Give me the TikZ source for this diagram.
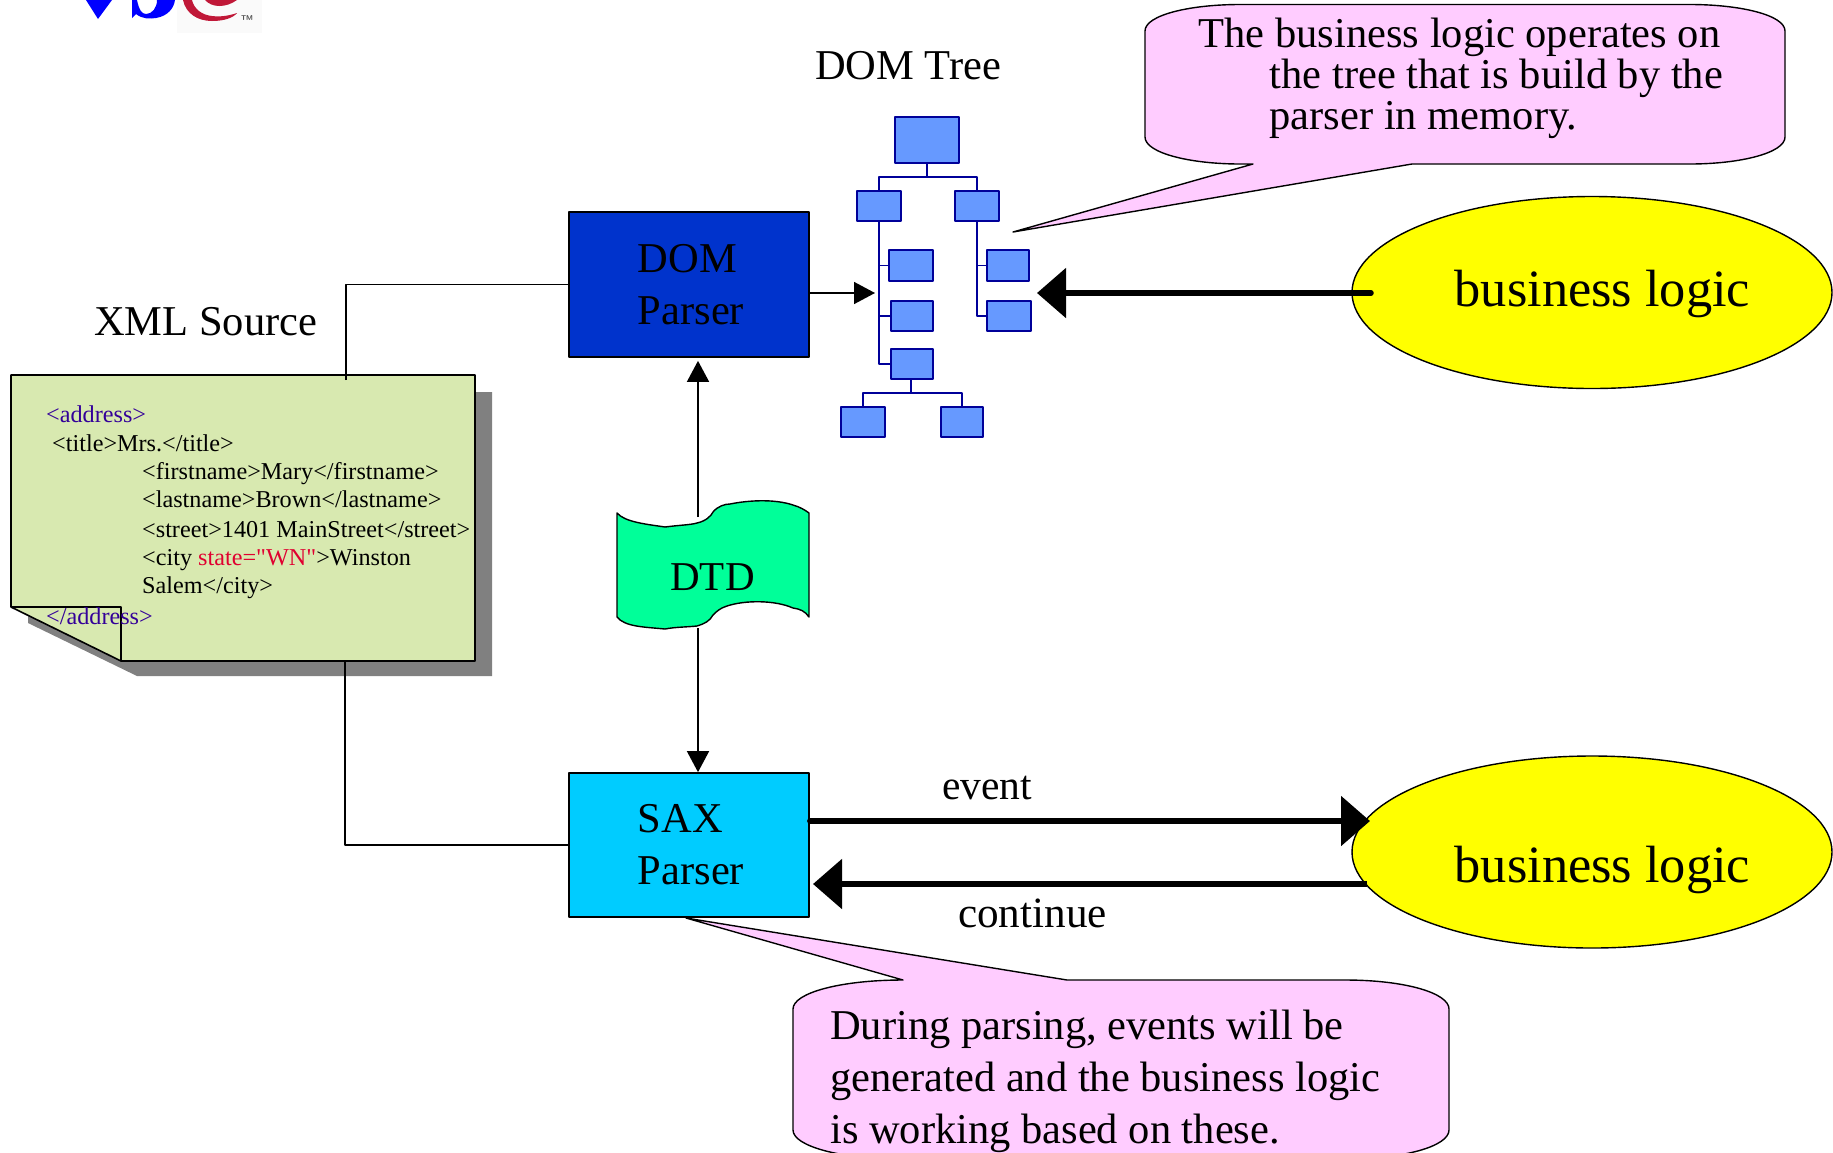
\documentclass[tikz,border=0pt]{standalone}
\usepackage{fontspec}
\setmainfont[Ligatures=TeXOff]{Liberation Serif}
\usetikzlibrary{arrows.meta,shapes.geometric}
\definecolor{w3blue}{HTML}{0000FF}
\definecolor{w3red}{HTML}{C01838}
\definecolor{docgreen}{HTML}{D8E9B0}
\definecolor{tagpurple}{HTML}{330099}
\definecolor{tagred}{HTML}{E00030}
\definecolor{domblue}{HTML}{0033CC}
\definecolor{saxblue}{HTML}{00CCFF}
\definecolor{dtdgreen}{HTML}{00FF99}
\definecolor{notepink}{HTML}{FFCCFF}
\definecolor{bizyellow}{HTML}{FFFF00}
\definecolor{treefill}{HTML}{6699FF}
\definecolor{treeline}{HTML}{000099}
\tikzset{
	parser/.style={draw,line width=1.7pt,minimum width=240pt,minimum height=145pt,inner sep=0pt,align=left,font=\fontsize{42.5}{52}\selectfont},
	treebox/.style={draw=treeline,fill=treefill,line width=1.6pt,inner sep=0pt,minimum width=44pt,minimum height=30pt},
	treeedge/.style={draw=treeline,line width=1.4pt},
	bizlogic/.style={draw,fill=bizyellow,ellipse,line width=1.4pt,inner sep=0pt,minimum width=480pt,minimum height=192pt,font=\fontsize{52.4}{60}\selectfont},
	title/.style={inner sep=0pt,anchor=base west,font=\fontsize{42.5}{50}\selectfont},
	xmlline/.style={inner sep=0pt,anchor=base west,font=\fontsize{24.2}{28}\selectfont},
	note/.style={draw,fill=notepink,line width=1.4pt},
	notetext/.style={inner sep=0pt,anchor=north west,align=left},
	thinarrow/.style={-{Triangle[length=21pt,width=22pt]},line width=1.6pt},
	fatarrow/.style={-{Triangle[length=29pt,width=49pt]},line width=5.5pt,line cap=round}
}
\newcommand{\bizlabel}[2]{\hspace*{21pt}\raisebox{-#1}[0pt][0pt]{#2}}
\begin{document}
\begin{tikzpicture}[
	x=1pt,y=-1pt,
	line join=round
	]
	\useasboundingbox (0,0) rectangle (1833,1152);
	% logo, cut by the page edge
	\fill[black!2] (177,0) rectangle (262,33);
	\fill[w3blue] (86,0) -- (98,19) -- (112,0) -- cycle;
	\fill[w3blue] (132,0) -- (132,18) -- (136,14) .. controls (142,19) and (150,19) .. (156,18) .. controls (168,16) and (174,8) .. (175,0) -- (157,0) .. controls (157,8) and (152,14) .. (146,14) .. controls (142,14) and (139,10) .. (137,0) -- cycle;
	\fill[w3red] (183,0) .. controls (186,14) and (198,21) .. (212,21) .. controls (224,21) and (233,18) .. (237,13) .. controls (228,16) and (220,17) .. (212,16) .. controls (202,15) and (194,9) .. (192,0) -- cycle;
	\fill[w3red] (205,0) .. controls (212,8) and (226,8) .. (237,0) -- cycle;
	\node[inner sep=0pt,text=black!70,font=\fontsize{7}{7}\selectfont\bfseries\sffamily] (logotm) at (247,18) {TM};
	% xml document
	\fill[black!50] (475,392) -- (492,392) -- (492,676) -- (137,676) -- (28,623) -- (28,612) -- cycle;
	\draw[fill=docgreen,line width=1.6pt] (11,375) -- (475,375) -- (475,661) -- (121,661) -- (11,607) -- cycle;
	\draw[line width=1.6pt] (11,607) -- (121,607) -- (121,661);
	\coordinate (doctop) at (346,380);
	\coordinate (docbottom) at (345,661);
	\node[title] (xmltitle) at (94,335) {XML Source};
	\node[xmlline,text=tagpurple] (xmlopen) at (46,422) {<address>};
	\node[xmlline] (xmltitleline) at (52,451) {<title>Mrs.</title>};
	\node[xmlline] (xmlfirst) at (142,479) {<firstname>Mary</firstname>};
	\node[xmlline] (xmllast) at (142,507) {<lastname>Brown</lastname>};
	\node[xmlline] (xmlstreet) at (142,537) {<street>1401 MainStreet</street>};
	\node[xmlline] (xmlcity) at (142,565) {<city \textcolor{tagred}{state="WN"}>Winston};
	\node[xmlline] (xmlsalem) at (142,593) {Salem</city>};
	\node[xmlline,text=tagpurple] (xmlclose) at (46,624) {</address>};
	% parsers
	\node[parser,fill=domblue] (dom) at (689,284.5) {\hspace*{4pt}DOM\\\hspace*{4pt}Parser};
	\node[parser,fill=saxblue,minimum height=144pt] (sax) at (689,845) {\hspace*{4pt}SAX\\\hspace*{4pt}Parser};
	\draw[line width=1.7pt] (doctop) |- (dom.west);
	\draw[line width=1.7pt] (docbottom) |- (sax.west);
	% dtd flag
	\draw[fill=dtdgreen,line width=1.4pt] (617,513) .. controls (625,522) and (645,524) .. (665,527) .. controls (680,525) and (690,525) .. (697,523) .. controls (706,521) and (711,516) .. (713,512) .. controls (718,506) and (725,504) .. (730,504) .. controls (750,500) and (775,499) .. (793,505) .. controls (800,507) and (805,510) .. (809,513) -- (809,617) .. controls (805,611) and (800,609) .. (793,608) .. controls (775,600) and (745,600) .. (727,606) .. controls (720,608) and (716,612) .. (713,615) .. controls (710,621) and (704,624) .. (697,626) .. controls (688,627) and (675,627) .. (665,629) .. controls (645,627) and (625,627) .. (617,617) -- cycle;
	\node[inner sep=0pt,anchor=base,font=\fontsize{41}{50}\selectfont] (dtd) at (712.5,590) {DTD};
	\coordinate (dtdtop) at (698,517);
	\coordinate (dtdbottom) at (698,628);
	\draw[thinarrow,shorten >=3pt] (dtdtop) -- (dtdtop |- dom.south);
	\draw[thinarrow] (dtdbottom) -- (dtdbottom |- sax.north);
	% dom tree
	\node[title] (treetitle) at (815,79) {DOM Tree};
	\node[treebox,minimum width=64pt,minimum height=46pt] (rootbox) at (927,140) {};
	\node[treebox] (treeL) at (879,206) {};
	\node[treebox] (treeR) at (977,206) {};
	\node[treebox,minimum height=31pt] (treeLa) at (911,265.5) {};
	\node[treebox,minimum width=42pt] (treeLb) at (912,316) {};
	\node[treebox,minimum width=42pt] (treeLc) at (912,364) {};
	\node[treebox,minimum width=42pt,minimum height=31pt] (treeRa) at (1008,265.5) {};
	\node[treebox] (treeRb) at (1009,316) {};
	\node[treebox] (treeBa) at (863,422) {};
	\node[treebox,minimum width=42pt] (treeBb) at (962,422) {};
	\coordinate (rootbus) at (927,177);
	\coordinate (leafbus) at (911,393);
	\draw[treeedge] (rootbox.south) -- (rootbus);
	\draw[treeedge] (treeL.north) |- (rootbus) -| (treeR.north);
	\draw[treeedge] (treeL.south) |- (treeLa.west);
	\draw[treeedge] (treeL.south) |- (treeLb.west);
	\draw[treeedge] (treeL.south) |- (treeLc.west);
	\draw[treeedge] (treeR.south) |- (treeRa.west);
	\draw[treeedge] (treeR.south) |- (treeRb.west);
	\draw[treeedge] (treeLc.south -| leafbus) -- (leafbus);
	\draw[treeedge] (treeBa.north) |- (leafbus) -| (treeBb.north);
	\coordinate (treein) at (875,293);
	\coordinate (treebiz) at (1037,293);
	\draw[thinarrow] (dom.east |- treein) -- (treein);
	% business logic
	\node[bizlogic] (bizdom) at (1592,292.5) {\bizlabel{14pt}{business logic}};
	\node[bizlogic] (bizsax) at (1592,852) {\bizlabel{30pt}{business logic}};
	\coordinate (bizdomout) at (1371,293);
	\coordinate (eventend) at (1370,821);
	\coordinate (continuestart) at (1367,884);
	\coordinate (continueend) at (813,884);
	\draw[fatarrow] (bizdomout) -- (treebiz);
	\draw[fatarrow] (sax.east |- eventend) -- (eventend);
	\draw[fatarrow,line cap=butt] (continuestart) -- (continueend);
	\node[title,font=\fontsize{41.5}{50}\selectfont] (eventlabel) at (942,799) {event};
	\node[title,font=\fontsize{43.2}{50}\selectfont] (continuelabel) at (958,927) {continue};
	% notes
	\draw[note] (1145,31) .. controls (1145,15) and (1190,4.5) .. (1240,4.5) -- (1690,4.5) .. controls (1740,4.5) and (1785,15) .. (1785,31) -- (1785,137) .. controls (1785,153) and (1740,164) .. (1690,164) -- (1412,164) -- (1013,232) -- (1253,164) -- (1240,164) .. controls (1190,164) and (1145,153) .. (1145,137) -- cycle;
	\node[notetext,font=\fontsize{42.5}{41}\selectfont] (domnote) at (1198.5,18) {The business logic operates on\\\hspace*{71pt}the tree that is build by the\\\hspace*{71pt}parser in memory.};
	\draw[note] (793,1009) .. controls (793,993) and (840,980) .. (903,980) -- (686,918) -- (1067,980) -- (1345,980) .. controls (1405,980) and (1449,993) .. (1449,1009) -- (1449,1130) .. controls (1449,1146) and (1405,1159) .. (1345,1159) -- (900,1159) .. controls (840,1159) and (793,1146) .. (793,1130) -- cycle;
	\node[notetext,font=\fontsize{42.5}{52}\selectfont] (saxnote) at (830,1010) {During parsing, events will be\\generated and the business logic\\is working based on these.};
\end{tikzpicture}
\end{document}
